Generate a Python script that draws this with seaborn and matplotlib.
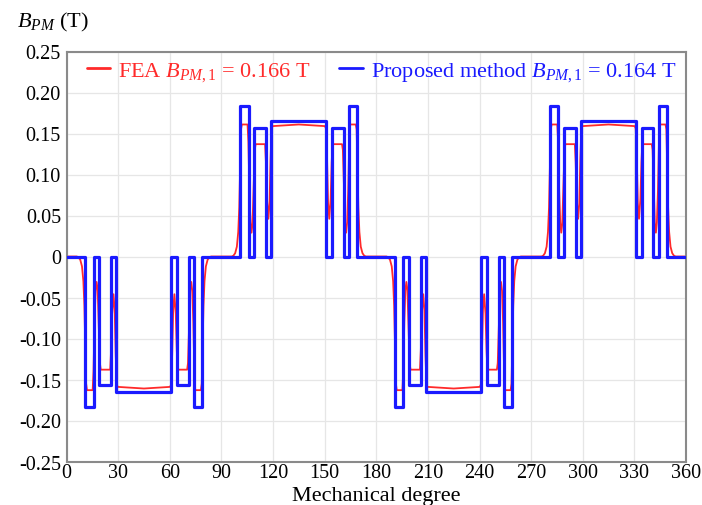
import matplotlib
matplotlib.use("Agg")
import matplotlib.pyplot as plt
import pandas as pd
import seaborn as sns

# ---------------- data ----------------
X_TICKS = [0, 30, 60, 90, 120, 150, 180, 210, 240, 270, 300, 330, 360]
Y_TICKS = [-0.25, -0.20, -0.15, -0.10, -0.05, 0.0, 0.05, 0.10, 0.15, 0.20, 0.25]
Y_TICK_LABELS = ["-0.25", "-0.20", "-0.15", "-0.10", "-0.05", "0",
                 "0.05", "0.10", "0.15", "0.20", "0.25"]

# Proposed method (blue): rectangular pulses (start deg, end deg, level T)
BLUE_START = [11.0, 18.9, 29.0, 64.2, 74.2,
              101.0, 108.9, 119.0, 154.2, 164.2,
              191.0, 198.9, 209.0, 244.2, 254.2,
              281.0, 288.9, 299.0, 334.2, 344.2]
BLUE_END = [15.8, 25.8, 61.0, 71.1, 79.0,
            105.8, 115.8, 151.0, 161.1, 169.0,
            195.8, 205.8, 241.0, 251.1, 259.0,
            285.8, 295.8, 331.0, 341.1, 349.0]
BLUE_LEVEL = [-0.184, -0.157, -0.165, -0.157, -0.184,
              0.184, 0.157, 0.165, 0.157, 0.184,
              -0.184, -0.157, -0.165, -0.157, -0.184,
              0.184, 0.157, 0.165, 0.157, 0.184]

# FEA (red) waveform
RED_DEG = [
    0, 6, 7, 8, 9, 9.8, 10.4, 10.9, 11.4, 11.9, 15.2, 15.7, 16.3, 16.9, 17.5, 18.1, 18.8, 19.4, 19.9,
    25.4, 25.9, 26.5, 27.3, 28.0, 28.6, 29.2, 29.8, 37, 45, 53, 60.2, 60.8, 61.4, 62.0, 62.7, 63.5, 64.1, 64.6,
    70.1, 70.6, 71.2, 71.9, 72.5, 73.1, 73.7, 74.3, 74.8, 78.1, 78.6, 79.1, 79.6, 80.2, 81, 82, 83, 84,
    90, 96, 97, 98, 99, 99.8, 100.4, 100.9, 101.4, 101.9, 105.2, 105.7, 106.3, 106.9, 107.5, 108.1, 108.8, 109.4, 109.9,
    115.4, 115.9, 116.5, 117.3, 118.0, 118.6, 119.2, 119.8, 127, 135, 143, 150.2, 150.8, 151.4, 152.0, 152.7, 153.5, 154.1, 154.6,
    160.1, 160.6, 161.2, 161.9, 162.5, 163.1, 163.7, 164.3, 164.8, 168.1, 168.6, 169.1, 169.6, 170.2, 171, 172, 173, 174,
    180, 186, 187, 188, 189, 189.8, 190.4, 190.9, 191.4, 191.9, 195.2, 195.7, 196.3, 196.9, 197.5, 198.1, 198.8, 199.4, 199.9,
    205.4, 205.9, 206.5, 207.3, 208.0, 208.6, 209.2, 209.8, 217, 225, 233, 240.2, 240.8, 241.4, 242.0, 242.7, 243.5, 244.1, 244.6,
    250.1, 250.6, 251.2, 251.9, 252.5, 253.1, 253.7, 254.3, 254.8, 258.1, 258.6, 259.1, 259.6, 260.2, 261, 262, 263, 264,
    270, 276, 277, 278, 279, 279.8, 280.4, 280.9, 281.4, 281.9, 285.2, 285.7, 286.3, 286.9, 287.5, 288.1, 288.8, 289.4, 289.9,
    295.4, 295.9, 296.5, 297.3, 298.0, 298.6, 299.2, 299.8, 307, 315, 323, 330.2, 330.8, 331.4, 332.0, 332.7, 333.5, 334.1, 334.6,
    340.1, 340.6, 341.2, 341.9, 342.5, 343.1, 343.7, 344.3, 344.8, 348.1, 348.6, 349.1, 349.6, 350.2, 351, 352, 353, 354,
    360,
]
RED_VAL = [
    0, 0, -0.001, -0.004, -0.012, -0.03, -0.06, -0.11, -0.155, -0.163, -0.163, -0.14, -0.08, -0.042, -0.031, -0.04, -0.09, -0.13, -0.138,
    -0.138, -0.115, -0.07, -0.046, -0.065, -0.12, -0.156, -0.159, -0.160, -0.161, -0.160, -0.159, -0.156, -0.12, -0.065, -0.046, -0.07, -0.115, -0.138,
    -0.138, -0.13, -0.09, -0.04, -0.031, -0.042, -0.08, -0.14, -0.163, -0.163, -0.155, -0.11, -0.06, -0.03, -0.012, -0.004, -0.001, 0,
    0, 0, 0.001, 0.004, 0.012, 0.03, 0.06, 0.11, 0.155, 0.161, 0.161, 0.14, 0.08, 0.042, 0.029, 0.04, 0.09, 0.13, 0.137,
    0.137, 0.115, 0.07, 0.046, 0.065, 0.12, 0.156, 0.159, 0.160, 0.161, 0.160, 0.159, 0.156, 0.12, 0.065, 0.046, 0.07, 0.115, 0.137,
    0.137, 0.13, 0.09, 0.04, 0.029, 0.042, 0.08, 0.14, 0.161, 0.161, 0.155, 0.11, 0.06, 0.03, 0.012, 0.004, 0.001, 0,
    0, 0, -0.001, -0.004, -0.012, -0.03, -0.06, -0.11, -0.155, -0.163, -0.163, -0.14, -0.08, -0.042, -0.031, -0.04, -0.09, -0.13, -0.138,
    -0.138, -0.115, -0.07, -0.046, -0.065, -0.12, -0.156, -0.159, -0.160, -0.161, -0.160, -0.159, -0.156, -0.12, -0.065, -0.046, -0.07, -0.115, -0.138,
    -0.138, -0.13, -0.09, -0.04, -0.031, -0.042, -0.08, -0.14, -0.163, -0.163, -0.155, -0.11, -0.06, -0.03, -0.012, -0.004, -0.001, 0,
    0, 0, 0.001, 0.004, 0.012, 0.03, 0.06, 0.11, 0.155, 0.161, 0.161, 0.14, 0.08, 0.042, 0.029, 0.04, 0.09, 0.13, 0.137,
    0.137, 0.115, 0.07, 0.046, 0.065, 0.12, 0.156, 0.159, 0.160, 0.161, 0.160, 0.159, 0.156, 0.12, 0.065, 0.046, 0.07, 0.115, 0.137,
    0.137, 0.13, 0.09, 0.04, 0.029, 0.042, 0.08, 0.14, 0.161, 0.161, 0.155, 0.11, 0.06, 0.03, 0.012, 0.004, 0.001, 0,
    0,
]

FEA_LABEL = r"FEA $B_{PM,1}$ = 0.166 T"
PROP_LABEL = r"Proposed method $B_{PM,1}$ = 0.164 T"
X_LABEL = "Mechanical degree"
Y_LABEL = r"$B_{PM}$ (T)"

RED = "#ff2a2a"
BLUE = "#1a1aff"

# ---------------- build tables ----------------
red_df = pd.DataFrame({"deg": RED_DEG, "B": RED_VAL})

bx, by = [0.0], [0.0]
for s, e, lv in zip(BLUE_START, BLUE_END, BLUE_LEVEL):
    bx += [s, s, e, e]
    by += [0.0, lv, lv, 0.0]
bx.append(360.0)
by.append(0.0)
blue_df = pd.DataFrame({"deg": bx, "B": by})

# ---------------- style ----------------
sns.set_theme(style="whitegrid")
plt.rcParams["font.family"] = ["Liberation Serif", "DejaVu Serif"]
plt.rcParams.update({
    "mathtext.fontset": "custom",
    "mathtext.rm": "Liberation Serif",
    "mathtext.it": "Liberation Serif:italic",
    "mathtext.bf": "Liberation Serif:bold",
    "axes.unicode_minus": False,
})

W, H = 702, 506
fig = plt.figure(figsize=(W / 100, H / 100), dpi=100)
left, right, top, bottom = 66.5, 686.0, 52.5, 462.5
ax = fig.add_axes([left / W, 1 - bottom / H, (right - left) / W, (bottom - top) / H])
ax.set_facecolor("white")

sns.lineplot(data=red_df, x="deg", y="B", sort=False, estimator=None, color=RED,
             linewidth=1.3, ax=ax, label=FEA_LABEL, zorder=2)
sns.lineplot(data=blue_df, x="deg", y="B", sort=False, estimator=None, color=BLUE,
             linewidth=2.3, ax=ax, label=PROP_LABEL, zorder=3,
             solid_joinstyle="round", solid_capstyle="round")

ax.set_xlim(0, 360)
ax.set_ylim(-0.25, 0.25)
ax.set_xticks(X_TICKS)
ax.set_xticklabels([str(v) for v in X_TICKS])
ax.set_yticks(Y_TICKS)
ax.set_yticklabels(Y_TICK_LABELS)
ax.tick_params(axis="both", length=0, labelsize=14.5, colors="black")
ax.tick_params(axis="x", pad=1)
ax.tick_params(axis="y", pad=4)
ax.grid(True, color="#e6e6e6", linewidth=0.9)
for sp in ax.spines.values():
    sp.set_color("#8a8a8a")
    sp.set_linewidth(1.5)

ax.set_xlabel(X_LABEL, fontsize=16, labelpad=3, color="black")
ax.set_ylabel("")
fig.text(17 / W, 1 - 22 / H, Y_LABEL, ha="left", va="center", fontsize=16, color="black")

leg = ax.legend(ncol=2, loc="upper left", bbox_to_anchor=(0.022, 0.996), frameon=False,
                fontsize=16, labelcolor="linecolor", handlelength=1.05, handletextpad=0.35,
                columnspacing=1.3, borderaxespad=0.0, borderpad=0.3)
for ln in leg.get_lines():
    ln.set_linewidth(2.0)

fig.savefig("out.png", dpi=100, facecolor="white")
